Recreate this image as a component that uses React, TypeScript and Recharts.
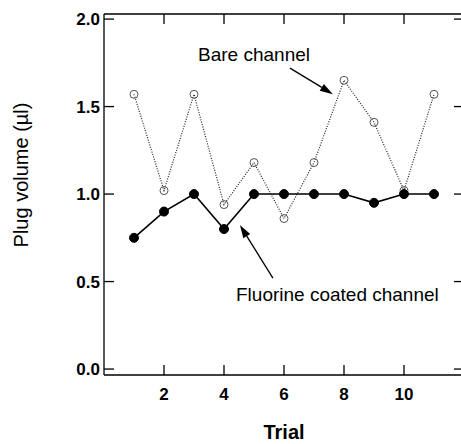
import React from 'react';
import { LineChart, Line, XAxis, YAxis, ReferenceLine, ReferenceDot } from 'recharts';

// values
const trials = [1, 2, 3, 4, 5, 6, 7, 8, 9, 10, 11];
const bareChannel = [1.57, 1.02, 1.57, 0.94, 1.18, 0.86, 1.18, 1.65, 1.41, 1.02, 1.57];
const fluorineChannel = [0.75, 0.9, 1.0, 0.8, 1.0, 1.0, 1.0, 1.0, 0.95, 1.0, 1.0];
const xTicks = [2, 4, 6, 8, 10];
const yTicks = [0, 0.5, 1.0, 1.5, 2.0];

const data = trials.map((t, i) => ({
  trial: t,
  bare: bareChannel[i],
  fluorine: fluorineChannel[i],
}));

const FONT = '"Liberation Sans", Arial, sans-serif';
const tickStyle = { fontSize: 17, fontWeight: 700, fill: '#000', fontFamily: FONT };

// arrow drawn from (x1,y1) to the head at (x2,y2)
const Arrow = (props: any) => {
  const { x1, y1, x2, y2 } = props;
  const ang = Math.atan2(y2 - y1, x2 - x1);
  const len = 13;
  const half = 4;
  const bx = x2 - len * Math.cos(ang);
  const by = y2 - len * Math.sin(ang);
  const px = -Math.sin(ang) * half;
  const py = Math.cos(ang) * half;
  return (
    <g>
      <line x1={x1} y1={y1} x2={bx} y2={by} stroke="#000" strokeWidth={1.3} />
      <polygon points={`${x2},${y2} ${bx + px},${by + py} ${bx - px},${by - py}`} fill="#000" />
    </g>
  );
};

const note = (text: string) => (props: any) => (
  <text
    x={props.cx}
    y={props.cy}
    textAnchor="middle"
    dominantBaseline="central"
    fontSize={19}
    fontFamily={FONT}
    fill="#000"
  >
    {text}
  </text>
);

const App = () => {
  return (
    <div style={{ position: 'absolute', left: 0, top: 0, width: 461, height: 444, overflow: 'hidden', background: '#fff' }}>
      <LineChart width={470} height={444} data={data} margin={{ top: 0, right: 0, bottom: 0, left: 0 }}>
        <XAxis
          xAxisId="b"
          dataKey="trial"
          type="number"
          domain={[0, 12]}
          ticks={xTicks}
          allowDataOverflow
          height={69}
          tickSize={-10}
          tickMargin={23}
          tick={tickStyle}
          stroke="#000"
          strokeWidth={1.3}
          label={{ value: 'Trial', position: 'insideBottom', offset: 5, fontSize: 20, fontWeight: 700, fill: '#000', fontFamily: FONT }}
        />
        <XAxis
          xAxisId="t"
          orientation="top"
          dataKey="trial"
          type="number"
          domain={[0, 12]}
          ticks={xTicks}
          allowDataOverflow
          height={14}
          tickSize={-10}
          tickFormatter={() => ''}
          stroke="#000"
          strokeWidth={1.3}
        />
        <YAxis
          yAxisId="l"
          type="number"
          domain={[-0.034, 2.029]}
          ticks={yTicks}
          allowDataOverflow
          width={104}
          tickSize={-10}
          tickMargin={14}
          tick={tickStyle}
          tickFormatter={(v: number) => v.toFixed(1)}
          stroke="#000"
          strokeWidth={1.3}
          label={{
            content: () => (
              <text
                x={28}
                y={175}
                transform="rotate(-90 28 175)"
                textAnchor="middle"
                fontSize={20}
                fontFamily={FONT}
                fill="#000"
              >
                Plug volume (µl)
              </text>
            ),
          }}
        />
        <YAxis
          yAxisId="r"
          orientation="right"
          type="number"
          domain={[-0.034, 2.029]}
          ticks={yTicks}
          allowDataOverflow
          width={6}
          tickSize={-10}
          tickFormatter={() => ''}
          stroke="#000"
          strokeWidth={1.3}
        />
        <Line
          xAxisId="b"
          yAxisId="l"
          dataKey="bare"
          stroke="#222"
          strokeWidth={1.2}
          strokeDasharray="1 1.5"
          dot={{ r: 4, fill: 'none', stroke: '#555', strokeWidth: 1, strokeDasharray: '' }}
          isAnimationActive={false}
        />
        <Line
          xAxisId="b"
          yAxisId="l"
          dataKey="fluorine"
          stroke="#000"
          strokeWidth={1.6}
          dot={{ r: 4.5, fill: '#000', stroke: '#000', strokeWidth: 1 }}
          isAnimationActive={false}
        />
        <ReferenceLine
          xAxisId="b"
          yAxisId="l"
          segment={[{ x: 6.2, y: 1.72 }, { x: 7.63, y: 1.571 }]}
          shape={Arrow}
        />
        <ReferenceLine
          xAxisId="b"
          yAxisId="l"
          segment={[{ x: 5.63, y: 0.52 }, { x: 4.53, y: 0.823 }]}
          shape={Arrow}
        />
        <ReferenceDot xAxisId="b" yAxisId="l" x={5.0} y={1.8} r={0} shape={note('Bare channel')} />
        <ReferenceDot xAxisId="b" yAxisId="l" x={7.78} y={0.426} r={0} shape={note('Fluorine coated channel')} />
      </LineChart>
    </div>
  );
};

export default App;
